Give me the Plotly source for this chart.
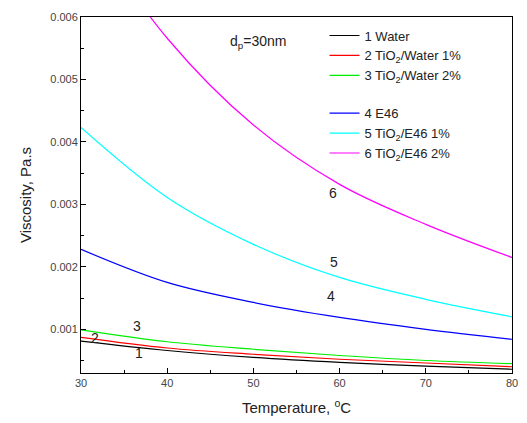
import plotly.graph_objects as go

temps = [30, 40, 50, 60, 70, 80]
water = [0.00081, 0.00066, 0.00055, 0.00047, 0.00041, 0.00036]
tio2_water_1 = [0.00087, 0.00070, 0.00060, 0.00052, 0.00046, 0.00040]
tio2_water_2 = [0.00099, 0.00080, 0.00068, 0.00058, 0.00050, 0.00045]
e46 = [0.00228, 0.00175, 0.00143, 0.00119, 0.00100, 0.00084]
tio2_e46_1 = [0.00423, 0.00311, 0.00236, 0.00183, 0.00148, 0.00120]
tio2_e46_2 = [0.00760, 0.00566, 0.00427, 0.00332, 0.00268, 0.00215]

names = ["1 Water", "2 TiO<sub>2</sub>/Water 1%", "3 TiO<sub>2</sub>/Water 2%",
         "4 E46", "5 TiO<sub>2</sub>/E46 1%", "6 TiO<sub>2</sub>/E46 2%"]
series = [water, tio2_water_1, tio2_water_2, e46, tio2_e46_1, tio2_e46_2]
colors = ["#000000", "#ff0000", "#00ee00", "#0000ff", "#00ffff", "#ff00ff"]
groups = ["w", "w", "w", "e", "e", "e"]

label_text = ["1", "2", "3", "4", "5", "6"]
label_x = [36.75, 31.6, 36.5, 59.0, 59.3, 59.2]
label_y = [0.00062, 0.000856, 0.00105, 0.00153, 0.00207, 0.00319]

FONT = "Liberation Sans, Arial"

fig = go.Figure()
for n, s, c, g in zip(names, series, colors, groups):
    fig.add_trace(go.Scatter(x=temps, y=s, mode="lines", name=n,
                             line=dict(color=c, width=1.2, shape="spline"),
                             legendgroup=g))

for t, lx, ly in zip(label_text, label_x, label_y):
    fig.add_annotation(x=lx, y=ly, text=t, showarrow=False,
                       font=dict(size=14, color="#222", family=FONT))

fig.add_annotation(x=0.41, y=0.93, xref="paper", yref="paper", xanchor="center",
                   yanchor="middle", text="d<sub>p</sub>=30nm", showarrow=False,
                   font=dict(size=14, color="#222", family=FONT))

axis_common = dict(showline=True, linecolor="black", linewidth=1, mirror=True,
                   ticks="inside", ticklen=5, tickcolor="black", showgrid=False,
                   zeroline=False,
                   tickfont=dict(size=11, color="#444", family=FONT))

fig.update_layout(
    width=527, height=423,
    margin=dict(l=81, r=9, t=17, b=50),
    plot_bgcolor="white", paper_bgcolor="white",
    font=dict(family=FONT, color="#222"),
    xaxis=dict(range=[30, 80], dtick=10, tick0=30,
               minor=dict(dtick=5, ticks="inside", ticklen=3, tickcolor="black"),
               title=dict(text="Temperature, <sup>o</sup>C", font=dict(size=15), standoff=14),
               **axis_common),
    yaxis=dict(range=[0.0003, 0.006], tickvals=[0.001, 0.002, 0.003, 0.004, 0.005, 0.006],
               ticktext=["0.001", "0.002", "0.003", "0.004", "0.005", "0.006"],
               minor=dict(dtick=0.0005, tick0=0, ticks="inside", ticklen=3, tickcolor="black"),
               title=dict(text="Viscosity, Pa.s", font=dict(size=15), standoff=15),
               **axis_common),
    legend=dict(x=0.565, y=0.99, xanchor="left", yanchor="top",
                bgcolor="rgba(0,0,0,0)", traceorder="grouped", tracegroupgap=18,
                font=dict(size=13, color="#222", family=FONT),
                itemwidth=30),
    showlegend=True,
)

fig.write_html(
    "out.html",
    config={"displayModeBar": False},
    post_script="document.body.style.margin='0';document.body.style.overflow='hidden';",
)
